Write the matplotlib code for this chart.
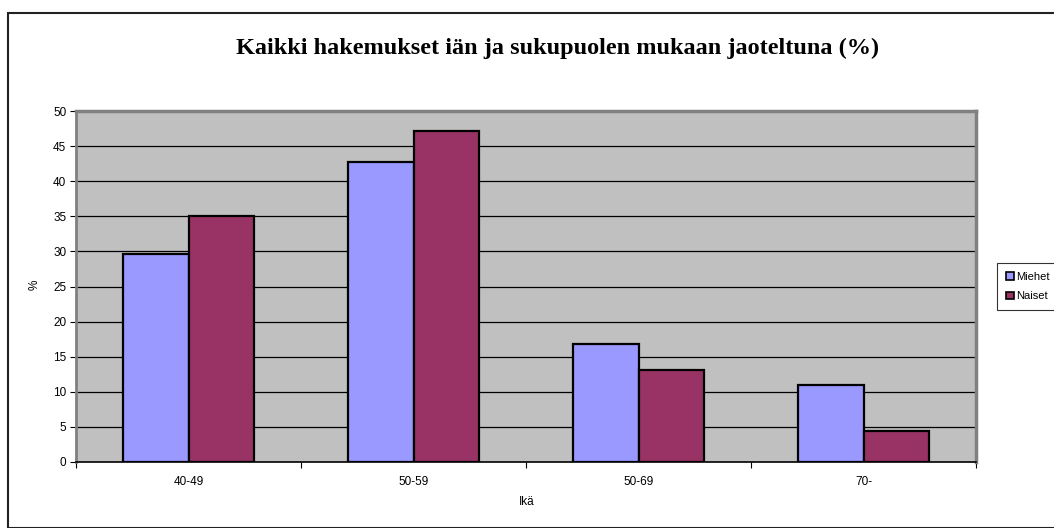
import matplotlib
matplotlib.use("Agg")
import matplotlib.pyplot as plt
import numpy as np
from matplotlib.patches import Rectangle, Patch

categories = ["40-49", "50-59", "50-69", "70-"]
miehet = [29.6, 42.8, 16.8, 10.9]
naiset = [35.1, 47.2, 13.1, 4.4]
yticks = [0, 5, 10, 15, 20, 25, 30, 35, 40, 45, 50]

W, H = 1054, 528
fig = plt.figure(figsize=(W/100, H/100), dpi=100)
fig.patch.set_facecolor("white")

# outer chart border
fig.patches.append(Rectangle((8/W, 0), 1.2, 1 - 13/H, transform=fig.transFigure,
                             fill=False, edgecolor="#222222", linewidth=1.5, clip_on=False))

ax = fig.add_axes([76/W, 1 - 462/H, 900/W, 351/H])
ax.set_facecolor("#C0C0C0")
x = np.arange(len(categories))
bw = 0.29
ax.bar(x - bw/2, miehet, bw, color="#9999FF", edgecolor="black", linewidth=1.6, zorder=3, label="Miehet")
ax.bar(x + bw/2, naiset, bw, color="#993366", edgecolor="black", linewidth=1.6, zorder=3, label="Naiset")
ax.set_xlim(-0.5, len(categories) - 0.5)
ax.set_ylim(0, 50)
ax.set_yticks(yticks)
for yv in yticks[1:-1]:
    ax.axhline(yv, color="black", linewidth=0.9, zorder=1)

ax.set_xticks(x)
ax.set_xticklabels(categories, fontsize=8.5, family="Liberation Sans")
ax.set_xticks(np.arange(len(categories) + 1) - 0.5, minor=True)
ax.tick_params(axis="x", which="major", length=0, pad=10)
ax.tick_params(axis="x", which="minor", length=4, width=0.8, direction="out")
ax.tick_params(axis="y", length=4, width=0.8, labelsize=8.5, pad=3)
for lbl in ax.get_yticklabels():
    lbl.set_family("Liberation Sans")

for s in ["top", "right"]:
    ax.spines[s].set_color("#808080")
    ax.spines[s].set_linewidth(2.5)
ax.spines["left"].set_color("#808080")
ax.spines["left"].set_linewidth(2.0)
ax.spines["bottom"].set_color("black")
ax.spines["bottom"].set_linewidth(1.2)

fig.text(35/W, 1 - 285/H, "%", rotation=90, ha="center", va="center", fontsize=8.5, family="Liberation Sans")
fig.text(527/W, 1 - 502/H, "Ikä", ha="center", va="center", fontsize=8.5, family="Liberation Sans")
fig.text(558/W, 1 - 48/H, "Kaikki hakemukset iän ja sukupuolen mukaan jaoteltuna (%)",
         ha="center", va="center", fontsize=17.5, fontweight="bold", family="Liberation Serif")

handles = [Patch(facecolor="#9999FF", edgecolor="black", linewidth=1.2),
           Patch(facecolor="#993366", edgecolor="black", linewidth=1.2)]
leg = fig.legend(handles, ["Miehet", "Naiset"], loc="upper left",
                 bbox_to_anchor=(997/W, 1 - 263/H), frameon=True, fancybox=False,
                 prop={"family": "Liberation Sans", "size": 8},
                 handlelength=0.7, handleheight=0.7, handletextpad=0.2,
                 borderpad=0.8, labelspacing=0.85, borderaxespad=0)
leg.get_frame().set_edgecolor("black")
leg.get_frame().set_linewidth(0.8)

fig.savefig("out.png", dpi=100)
